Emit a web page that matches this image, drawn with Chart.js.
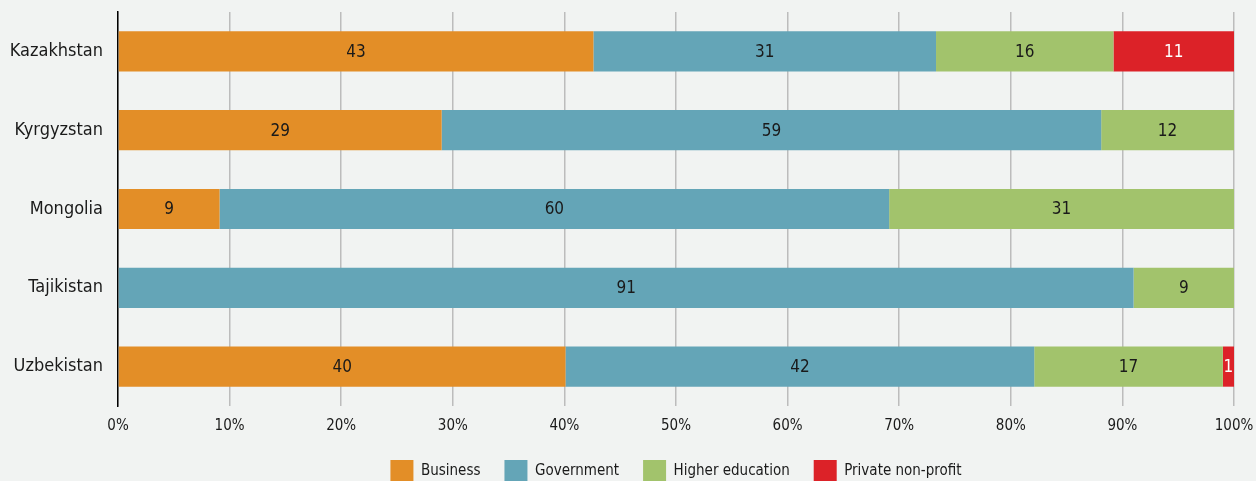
<!DOCTYPE html>
<html>
<head>
<meta charset="utf-8">
<script src="https://cdn.jsdelivr.net/npm/chart.js@4.4.1/dist/chart.umd.min.js"></script>
<style>
  html, body { margin: 0; padding: 0; background: #f1f3f2; }
  #wrap { width: 1256px; height: 481px; }
</style>
</head>
<body>
<div id="wrap"><canvas id="chart1" width="1256" height="481"></canvas></div>
<script>
var countries = ['Kazakhstan', 'Kyrgyzstan', 'Mongolia', 'Tajikistan', 'Uzbekistan'];
var business = [42.6, 29.0, 9.1, 0, 40.1];
var government = [30.7, 59.1, 60.0, 91.0, 42.0];
var higherEducation = [15.9, 11.9, 30.9, 9.0, 16.9];
var privateNonProfit = [10.8, 0, 0, 0, 1.0];
var tickLabels = ['0%', '10%', '20%', '30%', '40%', '50%', '60%', '70%', '80%', '90%', '100%'];

var fontName = "'DejaVu Sans Condensed', 'DejaVu Sans', sans-serif";

// write the rounded value in the middle of each segment
var barLabels = {
    id: 'barLabels',
    afterDatasetsDraw: function(chart) {
        var ctx = chart.ctx;
        ctx.save();
        ctx.font = '17px ' + fontName;
        ctx.textAlign = 'center';
        ctx.textBaseline = 'middle';
        chart.data.datasets.forEach(function(ds, i) {
            var meta = chart.getDatasetMeta(i);
            meta.data.forEach(function(bar, j) {
                var v = ds.data[j];
                if (!v) return;
                ctx.fillStyle = ds.labelColor;
                ctx.fillText(Math.round(v), (bar.x + bar.base) / 2, bar.y + 1);
            });
        });
        ctx.restore();
    }
};

// legend is centred under the plot area, not the whole canvas
var legendShift = {
    id: 'legendShift',
    afterLayout: function(chart) {
        var area = chart.chartArea;
        var lg = chart.legend;
        var d = (area.left + area.right) / 2 - (lg.left + lg.right) / 2;
        lg.left += d;
        lg.right += d;
    }
};

var ctx1 = document.getElementById('chart1').getContext('2d');
var chart1 = new Chart(ctx1, {
    type: 'bar',
    data: {
        labels: countries,
        datasets: [
            { label: 'Business', data: business, backgroundColor: '#e38e27', labelColor: '#1a1a1a' },
            { label: 'Government', data: government, backgroundColor: '#64a5b7', labelColor: '#1a1a1a' },
            { label: 'Higher education', data: higherEducation, backgroundColor: '#a2c36c', labelColor: '#1a1a1a' },
            { label: 'Private non-profit', data: privateNonProfit, backgroundColor: '#dc2228', labelColor: '#ffffff' }
        ]
    },
    options: {
        indexAxis: 'y',
        responsive: false,
        animation: false,
        categoryPercentage: 1,
        barPercentage: 0.51,
        layout: { padding: { left: 0, right: 22, top: 12, bottom: -11 } },
        plugins: {
            legend: {
                position: 'bottom',
                labels: {
                    boxWidth: 23,
                    boxHeight: 22,
                    padding: 24,
                    color: '#1a1a1a',
                    font: { family: fontName, size: 15 }
                }
            },
            tooltip: { enabled: false }
        },
        scales: {
            x: {
                stacked: true,
                min: 0,
                max: 100,
                ticks: {
                    stepSize: 10,
                    padding: 11,
                    color: '#1a1a1a',
                    font: { family: fontName, size: 15 },
                    callback: function(v, i) { return tickLabels[i]; }
                },
                grid: { color: '#bcbcbc', lineWidth: 1.5, drawTicks: false },
                border: { display: false },
                afterFit: function(axis) {
                    axis.height = 30;
                    axis.paddingLeft = 0;
                    axis.paddingRight = 0;
                }
            },
            y: {
                stacked: true,
                ticks: {
                    padding: 7,
                    color: '#1a1a1a',
                    font: { family: fontName, size: 18 }
                },
                grid: { display: false },
                border: { color: '#000000', width: 1.5 },
                afterFit: function(axis) {
                    axis.width = 118;
                    axis.paddingTop = 0;
                    axis.paddingBottom = 0;
                }
            }
        }
    },
    plugins: [barLabels, legendShift]
});
</script>
</body>
</html>
